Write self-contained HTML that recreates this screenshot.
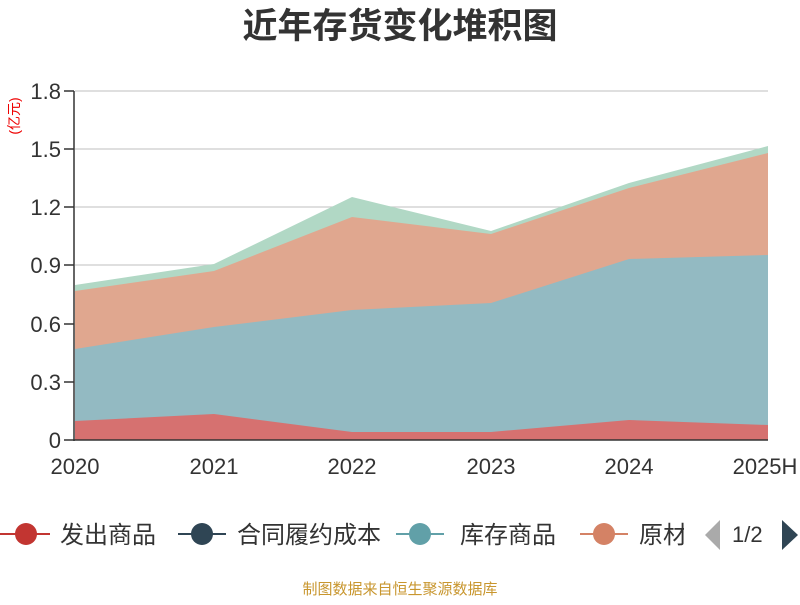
<!DOCTYPE html>
<html><head><meta charset="utf-8"><style>
body{margin:0;background:#fff;width:800px;height:600px;overflow:hidden}
text{font-family:"Liberation Sans","Noto Sans CJK SC",sans-serif}
</style></head><body>
<svg width="800" height="600" xmlns="http://www.w3.org/2000/svg">
<defs><clipPath id="c"><rect x="0" y="500" width="684" height="60"/></clipPath></defs>
<text x="400" y="38" text-anchor="middle" font-size="35" font-weight="bold" fill="#333">近年存货变化堆积图</text>
<text transform="translate(19,116) rotate(-90)" text-anchor="middle" font-size="14" fill="#e00">(亿元)</text>
<g stroke="#ccc" stroke-width="1.2">
<line x1="75" y1="91" x2="768" y2="91"/><line x1="75" y1="149" x2="768" y2="149"/>
<line x1="75" y1="207" x2="768" y2="207"/><line x1="75" y1="265" x2="768" y2="265"/>
<line x1="75" y1="324" x2="768" y2="324"/><line x1="75" y1="382" x2="768" y2="382"/>
</g>
<polygon fill="#b1d8c5" points="75,440 75,285 214,264 352,197 491,231 629,183 768,146 768,440"/>
<polygon fill="#e0a78f" points="75,440 75,291 214,271 352,217 491,234 629,188 768,153 768,440"/>
<polygon fill="#93bac2" points="75,440 75,349 214,327 352,310 491,303 629,259 768,255 768,440"/>
<polygon fill="#d67170" points="75,440 75,421 214,414 352,432 491,432 629,420 768,425 768,440"/>
<g stroke="#333" stroke-width="1.5">
<line x1="74" y1="91" x2="74" y2="441"/><line x1="74" y1="440" x2="768" y2="440"/>
<line x1="64" y1="91" x2="74" y2="91"/><line x1="64" y1="149" x2="74" y2="149"/>
<line x1="64" y1="207" x2="74" y2="207"/><line x1="64" y1="265" x2="74" y2="265"/>
<line x1="64" y1="324" x2="74" y2="324"/><line x1="64" y1="382" x2="74" y2="382"/>
<line x1="64" y1="440" x2="74" y2="440"/>
</g>
<g font-size="22" fill="#333" text-anchor="end">
<text x="61" y="99">1.8</text><text x="61" y="157">1.5</text><text x="61" y="215">1.2</text>
<text x="61" y="273">0.9</text><text x="61" y="332">0.6</text><text x="61" y="390">0.3</text><text x="61" y="448">0</text>
</g>
<g font-size="22" fill="#333" text-anchor="middle">
<text x="75" y="474">2020</text><text x="214" y="474">2021</text><text x="352" y="474">2022</text>
<text x="491" y="474">2023</text><text x="629" y="474">2024</text><text x="765" y="474">2025H</text>
</g>
<g font-size="24" fill="#333">
<line x1="0" y1="534" x2="50" y2="534" stroke="#c23531" stroke-width="2"/><circle cx="26" cy="534" r="11" fill="#c23531"/>
<text x="60" y="543">发出商品</text>
<line x1="178" y1="534" x2="226" y2="534" stroke="#2f4554" stroke-width="2"/><circle cx="202" cy="534" r="11" fill="#2f4554"/>
<text x="237" y="543">合同履约成本</text>
<line x1="396" y1="534" x2="444" y2="534" stroke="#61a0a8" stroke-width="2"/><circle cx="420" cy="534" r="11" fill="#61a0a8"/>
<text x="460" y="543">库存商品</text>
<line x1="580" y1="534" x2="628" y2="534" stroke="#d48265" stroke-width="2"/><circle cx="604" cy="534" r="11" fill="#d48265"/>
<text x="639" y="543" clip-path="url(#c)">原材料</text>
</g>
<g font-size="22" fill="#333">
<polygon points="720,520 720,550 705,535" fill="#aaa"/>
<text x="732" y="542">1/2</text>
<polygon points="782,520 782,550 798,535" fill="#2f4554"/>
</g>
<text x="400" y="594" text-anchor="middle" font-size="15" fill="#c8962e">制图数据来自恒生聚源数据库</text>
</svg>
</body></html>
